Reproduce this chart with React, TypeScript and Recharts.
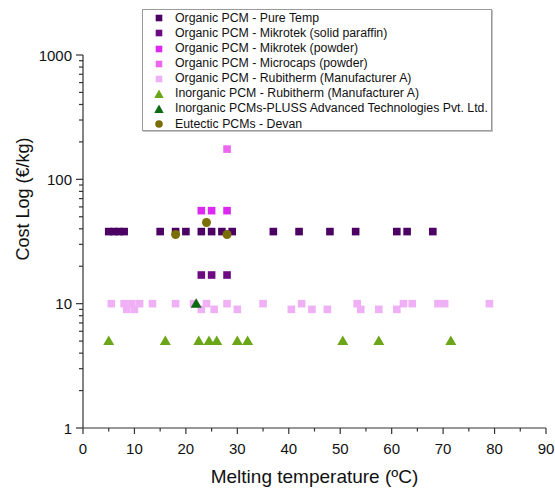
import React from 'react';
import { ScatterChart, Scatter, XAxis, YAxis } from 'recharts';

const FONT = '"Liberation Sans", Arial, Helvetica, sans-serif';

// ---- tick labels ----
const xTicks = [0, 5, 10, 15, 20, 25, 30, 35, 40, 45, 50, 55, 60, 65, 70, 75, 80, 85, 90];
const xMajorTicks = [0, 10, 20, 30, 40, 50, 60, 70, 80, 90];
const yTicks = [1, 2, 3, 4, 5, 6, 7, 8, 9, 10, 20, 30, 40, 50, 60, 70, 80, 90, 100, 200, 300, 400, 500, 600, 700, 800, 900, 1000];
const yMajorTicks = [1, 10, 100, 1000];

// ---- series values (melting temperature ºC, cost €/kg) ----
const pureTempTemp = [5, 6, 7, 8, 15, 18, 20, 23, 25, 27, 29, 37, 42, 48, 53, 61, 63, 68];
const pureTempCost = [38, 38, 38, 38, 38, 38, 38, 38, 38, 38, 38, 38, 38, 38, 38, 38, 38, 38];

const mikrotekSolidTemp = [23, 25, 28];
const mikrotekSolidCost = [17, 17, 17];

const mikrotekPowderTemp = [23, 25, 28];
const mikrotekPowderCost = [56, 56, 56];

const microcapsTemp = [28];
const microcapsCost = [175];

const rubithermOrgTemp = [5.5, 8, 9.5, 11, 13.5, 18, 21.5, 24, 28, 35, 42.5, 53.3, 62.3, 64, 69, 70.3, 79,
  8.5, 10, 23, 25.5, 30, 40.5, 44.5, 47.5, 54, 57.5, 61];
const rubithermOrgCost = [10, 10, 10, 10, 10, 10, 10, 10, 10, 10, 10, 10, 10, 10, 10, 10, 10,
  9, 9, 9, 9, 9, 9, 9, 9, 9, 9, 9];

const rubithermInorgTemp = [5, 16, 22.5, 24.5, 26, 30, 32, 50.5, 57.5, 71.5];
const rubithermInorgCost = [5, 5, 5, 5, 5, 5, 5, 5, 5, 5];

const plussTemp = [22];
const plussCost = [10];

const devanTemp = [18, 24, 28];
const devanCost = [36, 45, 36];

const toPoints = (xs: number[], ys: number[]) => xs.map((x, i) => ({ x, y: ys[i] }));

type Kind = 'square' | 'triangle' | 'circle';

const series: { name: string; color: string; kind: Kind; data: { x: number; y: number }[] }[] = [
  { name: 'Organic PCM - Pure Temp', color: '#4c0064', kind: 'square', data: toPoints(pureTempTemp, pureTempCost) },
  { name: 'Organic PCM - Mikrotek (solid paraffin)', color: '#6c0a82', kind: 'square', data: toPoints(mikrotekSolidTemp, mikrotekSolidCost) },
  { name: 'Organic PCM - Mikrotek (powder)', color: '#dc28f0', kind: 'square', data: toPoints(mikrotekPowderTemp, mikrotekPowderCost) },
  { name: 'Organic PCM - Microcaps (powder)', color: '#ec66ee', kind: 'square', data: toPoints(microcapsTemp, microcapsCost) },
  { name: 'Organic PCM - Rubitherm (Manufacturer A)', color: '#f0b0f6', kind: 'square', data: toPoints(rubithermOrgTemp, rubithermOrgCost) },
  { name: 'Inorganic PCM - Rubitherm (Manufacturer A)', color: '#6aa618', kind: 'triangle', data: toPoints(rubithermInorgTemp, rubithermInorgCost) },
  { name: 'Inorganic PCMs-PLUSS Advanced Technologies Pvt. Ltd.', color: '#0c6a10', kind: 'triangle', data: toPoints(plussTemp, plussCost) },
  { name: 'Eutectic PCMs - Devan', color: '#7a6e06', kind: 'circle', data: toPoints(devanTemp, devanCost) },
];

const makeShape = (kind: Kind, color: string) => (p: any) => {
  const cx = p.cx;
  const cy = p.cy;
  if (kind === 'square') {
    return <rect x={cx - 3.8} y={cy - 3.8} width={7.6} height={7.6} fill={color} />;
  }
  if (kind === 'triangle') {
    return <polygon points={`${cx},${cy - 5.5} ${cx - 5.5},${cy + 4} ${cx + 5.5},${cy + 4}`} fill={color} />;
  }
  return <circle cx={cx} cy={cy} r={4.5} fill={color} />;
};

const AXIS_COLOR = '#333';

const XTick = (props: any) => {
  const { x, y, payload } = props;
  const major = xMajorTicks.includes(payload.value);
  return (
    <g>
      <line x1={x} x2={x} y1={y} y2={y + (major ? 6 : 3.5)} stroke={AXIS_COLOR} strokeWidth={1.2} />
      {major && (
        <text x={x} y={y + 20} textAnchor="middle" dominantBaseline="central" fontSize={15} fontFamily={FONT} fill="#111">
          {payload.value}
        </text>
      )}
    </g>
  );
};

const YTick = (props: any) => {
  const { x, y, payload } = props;
  const major = yMajorTicks.includes(payload.value);
  return (
    <g>
      <line x1={x - (major ? 7 : 4)} x2={x} y1={y} y2={y} stroke={AXIS_COLOR} strokeWidth={1.2} />
      {major && (
        <text x={x - 11} y={y} textAnchor="end" dominantBaseline="central" fontSize={15} fontFamily={FONT} fill="#111">
          {payload.value}
        </text>
      )}
    </g>
  );
};

const XTitle = () => (
  <text x={314.5} y={476} textAnchor="middle" dominantBaseline="central" fontSize={19} fontFamily={FONT} fill="#111">
    Melting temperature (ºC)
  </text>
);

const YTitle = () => (
  <text x={23} y={199} transform="rotate(-90 23 199)" textAnchor="middle" dominantBaseline="central" fontSize={18} fontFamily={FONT} fill="#111">
    Cost Log (€/kg)
  </text>
);

const LegendMarker = ({ kind, color }: { kind: Kind; color: string }) => (
  <svg width={12} height={12} style={{ position: 'absolute', left: 9.5, top: 1.5 }}>
    {kind === 'square' && <rect x={2.7} y={2.7} width={6.6} height={6.6} fill={color} />}
    {kind === 'triangle' && <polygon points="6,1.5 1.3,10 10.7,10" fill={color} />}
    {kind === 'circle' && <circle cx={6} cy={6} r={3.8} fill={color} />}
  </svg>
);

export default function App() {
  return (
    <div style={{ position: 'relative', width: 555, height: 489, fontFamily: FONT }}>
      <style>{'html,body{margin:0;padding:0;overflow:hidden;}'}</style>
      <ScatterChart width={555} height={489} margin={{ top: 55, right: 9, bottom: 0, left: 0 }}>
        <XAxis
          dataKey="x"
          type="number"
          domain={[0, 90]}
          ticks={xTicks}
          interval={0}
          tickSize={0}
          tickMargin={0}
          tickLine={false}
          tick={<XTick />}
          axisLine={{ stroke: AXIS_COLOR, strokeWidth: 1.2 }}
          height={61}
          allowDataOverflow
          label={<XTitle />}
        />
        <YAxis
          dataKey="y"
          type="number"
          scale="log"
          domain={[1, 1000]}
          ticks={yTicks}
          interval={0}
          tickSize={0}
          tickMargin={0}
          tickLine={false}
          tick={<YTick />}
          axisLine={{ stroke: AXIS_COLOR, strokeWidth: 1.2 }}
          width={83}
          allowDataOverflow
          label={<YTitle />}
        />
        {series.map((s) => (
          <Scatter
            key={s.name}
            name={s.name}
            data={s.data}
            fill={s.color}
            shape={makeShape(s.kind, s.color)}
            isAnimationActive={false}
          />
        ))}
      </ScatterChart>
      <div
        style={{
          position: 'absolute',
          left: 142,
          top: 9,
          width: 350,
          height: 122,
          border: '1px solid #9a9a9a',
          boxShadow: '1px 1px 0 #c4c4c4',
          background: '#fff',
          boxSizing: 'border-box',
        }}
      >
        {series.map((s, i) => (
          <div
            key={s.name}
            style={{
              position: 'absolute',
              left: 0,
              top: 0.8 + i * 15.1,
              height: 15,
              width: 348,
              lineHeight: '15px',
              fontSize: 12.3,
              color: '#111',
              whiteSpace: 'nowrap',
            }}
          >
            <LegendMarker kind={s.kind} color={s.color} />
            <span style={{ position: 'absolute', left: 32 }}>{s.name}</span>
          </div>
        ))}
      </div>
    </div>
  );
}
